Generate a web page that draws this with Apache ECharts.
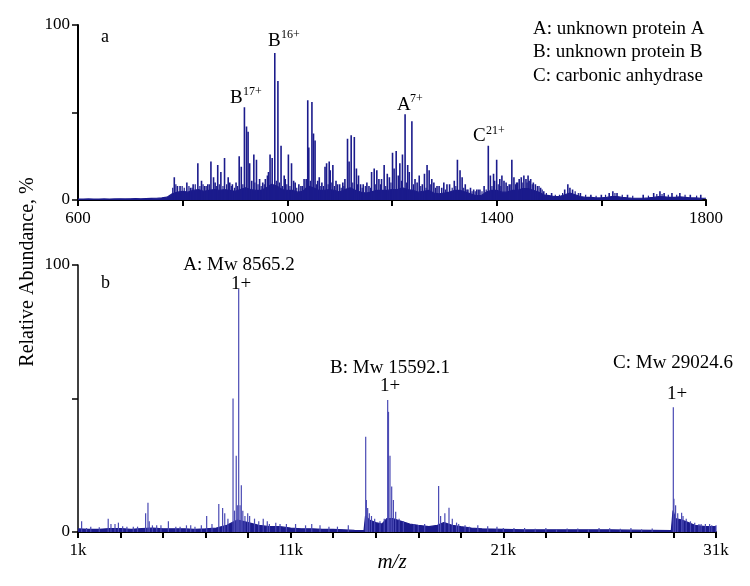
<!DOCTYPE html>
<html><head><meta charset="utf-8">
<script src="https://cdn.jsdelivr.net/npm/echarts@6/dist/echarts.min.js"></script>
<style>html,body{margin:0;padding:0;background:#fff}#c{width:750px;height:586px}</style>
</head><body><div id="c"></div>
<script>
// ---------- Panel a (m/z 600-1800) ----------
const topXTicks = [600, 800, 1000, 1200, 1400, 1600, 1800];
const topXLabels = [600, 1000, 1400, 1800];
const yTicks = [0, 50, 100];
const yLabels = [0, 100];
// baseline level every 10 m/z starting at 600
const topBaseStart = 600, topBaseStep = 10;
const topBaseVal = [
  0.5,0.5,0.6,0.5,0.5,0.6,0.5,0.6,0.7,0.6,
  0.7,0.8,0.7,0.8,0.9,1.0,1.2,1.6,3.5,4.5,
  5,4.5,5.5,6,5,5.5,6,5.5,6,5.5,
  5,6,7,6,5.5,5.5,7,9,8,6,
  5.5,5.5,4.5,5,8,7,5.5,5.5,6,5.5,
  4.5,6,7,5.5,4.5,4,4.5,5.5,5.5,5.5,
  6,6,7,6,5.5,4.5,5,5.5,4,3.5,
  4,4.5,5.5,5.5,4.5,3.5,2.5,2.5,4.5,5.5,
  5.5,4.5,4.5,5.5,5.5,6.5,6.5,5.5,4.5,3,
  2.5,2,2,3,4,3,2,1.5,1.5,1.2,
  1.2,1.5,2,2,1.5,1.2,1,1,1,1.2,
  1.5,2,1.8,1.5,1.5,1.8,1.5,1.2,1.2,1,
  1
];
const topPeakMz = [784,790,795,808,815,820,829,836,842,848,854,859,862,867,873,880,887,890,895,902,908,912,918,922,925,928,932,936,941,947,953,958,962,964,967,971,976,982,988,994,996,1002,1008,1012,1015,1022,1026,1032,1036,1039,1041,1047,1050,1053,1058,1061,1066,1072,1075,1080,1082,1087,1093,1096,1100,1106,1110,1115,1118,1122,1128,1132,1136,1140,1145,1152,1156,1161,1166,1171,1175,1180,1185,1191,1195,1201,1204,1208,1212,1215,1220,1225,1230,1233,1238,1244,1248,1252,1258,1262,1267,1271,1276,1280,1286,1290,1295,1299,1305,1310,1319,1325,1330,1334,1340,1345,1350,1356,1362,1368,1376,1384,1388,1394,1396,1400,1406,1410,1414,1418,1424,1429,1433,1438,1440,1443,1447,1452,1456,1460,1462,1465,1470,1474,1478,1484,1490,1505,1530,1536,1540,1545,1560,1580,1600,1615,1622,1630,1650,1680,1700,1712,1720,1735,1750,1770,1790];
const topPeakH  = [13,8,8,10,7,9,21,11,8,9,22,13,10,20,16,24,13,10,9,10,25,19,53,42,39,21,11,26,23,12,10,12,14,16,26,24,84,68,31,14,12,26,21,11,10,9,8,12,12,57,30,56,38,34,11,13,10,19,21,22,17,20,11,9,9,10,12,35,22,37,36,18,14,9,9,10,8,16,18,17,12,12,20,15,13,27,18,28,14,21,26,49,20,16,45,12,10,14,9,15,20,17,12,10,8,8,7,10,9,9,11,23,17,13,9,6,7,6,6,6,8,31,14,15,11,23,12,14,11,10,9,23,13,10,10,12,13,14,12,14,11,12,10,9,8,7,5,4,6,9,7,6,4,3,3,4,5,4,3,3,4,5,4,4,4,3,3];
// small noise spikes of the grass band
const topNoiseMz = [781,787,799,803,812,818,824,833,839,845,851,865,870,877,884,893,899,905,915,938,944,950,956,979,985,991,999,1005,1018,1029,1044,1056,1064,1069,1078,1085,1090,1103,1108,1125,1134,1143,1149,1159,1168,1178,1188,1198,1218,1228,1241,1255,1265,1274,1283,1302,1315,1322,1337,1343,1353,1359,1365,1372,1380,1391,1403,1408,1421,1427,1436,1450,1458,1468,1481,1487,1495,1512,1520,1526,1550,1556,1570,1590,1608,1626,1640,1660,1690,1706,1716,1728,1744,1760,1782];
const topNoiseH  = [7,9,8,7,8,7,9,8,9,8,9,8,9,8,9,8,7,8,9,10,9,8,9,11,10,8,9,8,7,8,11,9,8,8,9,10,8,7,8,10,9,7,8,7,9,9,8,10,11,10,9,8,7,9,7,6,7,8,7,6,5,5,6,5,6,8,9,8,8,9,9,10,10,9,8,6,4,3,3,4,5,4,3,2.5,3,4,3,2.5,2.5,3.5,3.5,3,3,3,2.5];

// ---------- Panel b (m/z 1k-31k) ----------
const botXTicks = [1000,3000,5000,7000,9000,11000,13000,15000,17000,19000,21000,23000,25000,27000,29000,31000];
const botXLabels = [1000, 11000, 21000, 31000];
const botBaseMz  = [1000,1500,2000,2500,3000,3500,4000,4500,5000,5500,6000,6500,7000,7500,8000,8250,8500,8750,9000,9500,10000,10500,11000,11500,12000,12500,13000,13500,14000,14450,14520,14700,15000,15300,15520,15800,16200,16600,17000,17500,17900,18200,18600,19000,19500,20000,21000,22000,23000,24000,25000,26000,27000,28000,28900,28980,29100,29400,29700,30000,30500,31000];
const botBaseVal = [1.2,1,1,1.3,1.3,1,1.3,1.5,1.2,1.2,1.2,1,1.2,1.5,2.5,3.5,4.5,4,3.5,2.5,2,2,1.5,1.2,1.2,1,1,0.8,0.6,0.5,6,4.5,3.5,3,5,5,4,3,2.5,2,2.5,3.5,2.5,2,1.5,1.2,1,0.8,0.8,0.8,0.8,0.8,0.7,0.6,0.5,8,5,4.5,3.5,2.5,2,2];
const botPeakMz = [1170,1400,1600,2000,2420,2550,2740,2900,3100,3300,3600,3800,4180,4290,4350,4500,4700,4900,5250,5600,5800,6100,6300,6500,6800,7050,7300,7620,7800,7900,8050,8290,8360,8440,8490,8556,8620,8680,8750,8850,8980,9070,9300,9500,9710,9900,10000,10300,10500,10800,11230,11700,11990,12380,12800,13200,13710,14528,14560,14620,14700,14800,14950,15200,15400,15562,15600,15670,15750,15830,15938,16100,16300,16800,17000,17300,17957,18050,18250,18445,18600,18800,18900,19200,19400,19800,20265,20700,21000,21500,22000,22500,23000,23500,24000,24500,25000,25500,26000,26500,27000,27500,28000,28993,29020,29100,29200,29384,29450,29600,29800,30000,30200,30300,30500,30700,30800,31000];
const botPeakH  = [4,1.5,2,1.8,5,3,3,3.5,2.2,2,2,2,7,11,4,2.5,2.5,2.5,4,2,2,2.5,2.5,2,2.5,6,3,10.5,9,7,5,50,8,28.6,10,91,10,17.5,8,6,7,6,5,4,5,4,3,3.5,3,3,3,2.5,3,2.5,2,2,2.5,35.7,12,9,7,6,5,4,5,49.4,45,28.6,17,12,7.6,5,4,3,2.6,3,17.2,6,7,9.1,5,3.5,3,2.5,2,2.5,2.2,2,1.5,1.5,1.5,1.2,1.5,1,1.3,1.3,1,1.5,1.4,1.2,1.5,1,1.3,46.7,12.5,10,7,7.2,6,5,4,3.5,3,3,3,3,2.5,2.5];

// ---------- build series data ----------
const topBase = topBaseVal.map((v, i) => [topBaseStart + i * topBaseStep, v]);
const topPeaks = topPeakMz.map((m, i) => [m, topPeakH[i]]);
const topNoise = topNoiseMz.map((m, i) => [m, topNoiseH[i]]);
const botBase = botBaseMz.map((m, i) => [m, botBaseVal[i]]);
const botPeaks = botPeakMz.map((m, i) => [m, botPeakH[i]]);

const FONT = "'Liberation Serif','Times New Roman',serif";
const NAVY = '#1b1b8c';

function stick(lw) {
  return function (params, api) {
    const x = api.value(0), h = api.value(1);
    const p0 = api.coord([x, 0]), p1 = api.coord([x, h]);
    return { type: 'line', shape: { x1: p0[0], y1: p0[1], x2: p1[0], y2: p1[1] },
      style: { stroke: api.visual('color'), lineWidth: lw } };
  };
}

function xAxisCfg(idx, min, max, ticks, labels, fmt) {
  return {
    type: 'value', gridIndex: idx, min: min, max: max,
    splitLine: { show: false },
    axisLine: { onZero: false, lineStyle: { color: '#000', width: 2 } },
    axisTick: { customValues: ticks, length: 6, lineStyle: { color: '#000', width: 2 } },
    axisLabel: { customValues: labels, formatter: fmt, color: '#000', fontFamily: FONT, fontSize: 17, margin: 10 }
  };
}
function yAxisCfg(idx, w) {
  return {
    type: 'value', gridIndex: idx, min: 0, max: 100,
    splitLine: { show: false },
    axisLine: { show: true, lineStyle: { color: '#000', width: w } },
    axisTick: { show: true, customValues: yTicks, length: 6, lineStyle: { color: '#000', width: 1.5 } },
    axisLabel: { customValues: yLabels, color: '#000', fontFamily: FONT, fontSize: 17, margin: 8 }
  };
}

function txt(x, y, s, size, align, opts) {
  return Object.assign({ type: 'text', x: x, y: y, style: { text: s, fill: '#000',
    font: (opts && opts.italic ? 'italic ' : '') + size + 'px ' + FONT,
    textAlign: align || 'left', textVerticalAlign: 'middle', verticalAlign: 'middle' } },
    opts && opts.rotation ? { rotation: opts.rotation } : {});
}

const chart = echarts.init(document.getElementById('c'), null, { renderer: 'canvas' });
chart.setOption({
  animation: false,
  backgroundColor: '#fff',
  grid: [
    { left: 78, top: 25, width: 628, height: 175 },
    { left: 78, top: 265, width: 638, height: 267 }
  ],
  xAxis: [
    xAxisCfg(0, 600, 1800, topXTicks, topXLabels, v => String(v)),
    xAxisCfg(1, 1000, 31000, botXTicks, botXLabels, v => (v / 1000) + 'k')
  ],
  yAxis: [ yAxisCfg(0, 2), yAxisCfg(1, 1.5) ],
  series: [
    { type: 'line', xAxisIndex: 0, yAxisIndex: 0, data: topBase, showSymbol: false,
      lineStyle: { color: NAVY, width: 1.2 }, areaStyle: { color: NAVY, opacity: 1 }, z: 2 },
    { type: 'custom', xAxisIndex: 0, yAxisIndex: 0, data: topNoise, renderItem: stick(1.2),
      itemStyle: { color: NAVY }, encode: { x: 0, y: 1 }, z: 3 },
    { type: 'custom', xAxisIndex: 0, yAxisIndex: 0, data: topPeaks, renderItem: stick(1.6),
      itemStyle: { color: NAVY }, encode: { x: 0, y: 1 }, z: 3 },
    { type: 'line', xAxisIndex: 1, yAxisIndex: 1, data: botBase, showSymbol: false,
      lineStyle: { color: NAVY, width: 1.2 }, areaStyle: { color: NAVY, opacity: 1 }, z: 2 },
    { type: 'custom', xAxisIndex: 1, yAxisIndex: 1, data: botPeaks, renderItem: stick(1.2),
      itemStyle: { color: '#4a4ab4' }, encode: { x: 0, y: 1 }, z: 3 }
  ],
  graphic: [
    txt(28, 272, 'Relative Abundance, %', 20, 'center', { rotation: Math.PI / 2 }),
    txt(392, 562, 'm/z', 21, 'center', { italic: true }),
    txt(101, 37, 'a', 18, 'left'),
    txt(101, 283, 'b', 18, 'left'),
    txt(533, 29, 'A: unknown protein A', 19, 'left'),
    txt(533, 52, 'B: unknown protein B', 19, 'left'),
    txt(533, 76, 'C: carbonic anhydrase', 19, 'left'),
    txt(268, 41, 'B', 19, 'left'), txt(281, 35, '16+', 12, 'left'),
    txt(230, 98, 'B', 19, 'left'), txt(243, 92, '17+', 12, 'left'),
    txt(397, 105, 'A', 19, 'left'), txt(410, 99, '7+', 12, 'left'),
    txt(473, 136, 'C', 19, 'left'), txt(486, 131, '21+', 12, 'left'),
    txt(239, 265, 'A: Mw 8565.2', 19, 'center'),
    txt(241, 284, '1+', 19, 'center'),
    txt(390, 368, 'B: Mw 15592.1', 19, 'center'),
    txt(390, 386, '1+', 19, 'center'),
    txt(673, 363, 'C: Mw 29024.6', 19, 'center'),
    txt(677, 394, '1+', 19, 'center')
  ]
});
</script></body></html>
